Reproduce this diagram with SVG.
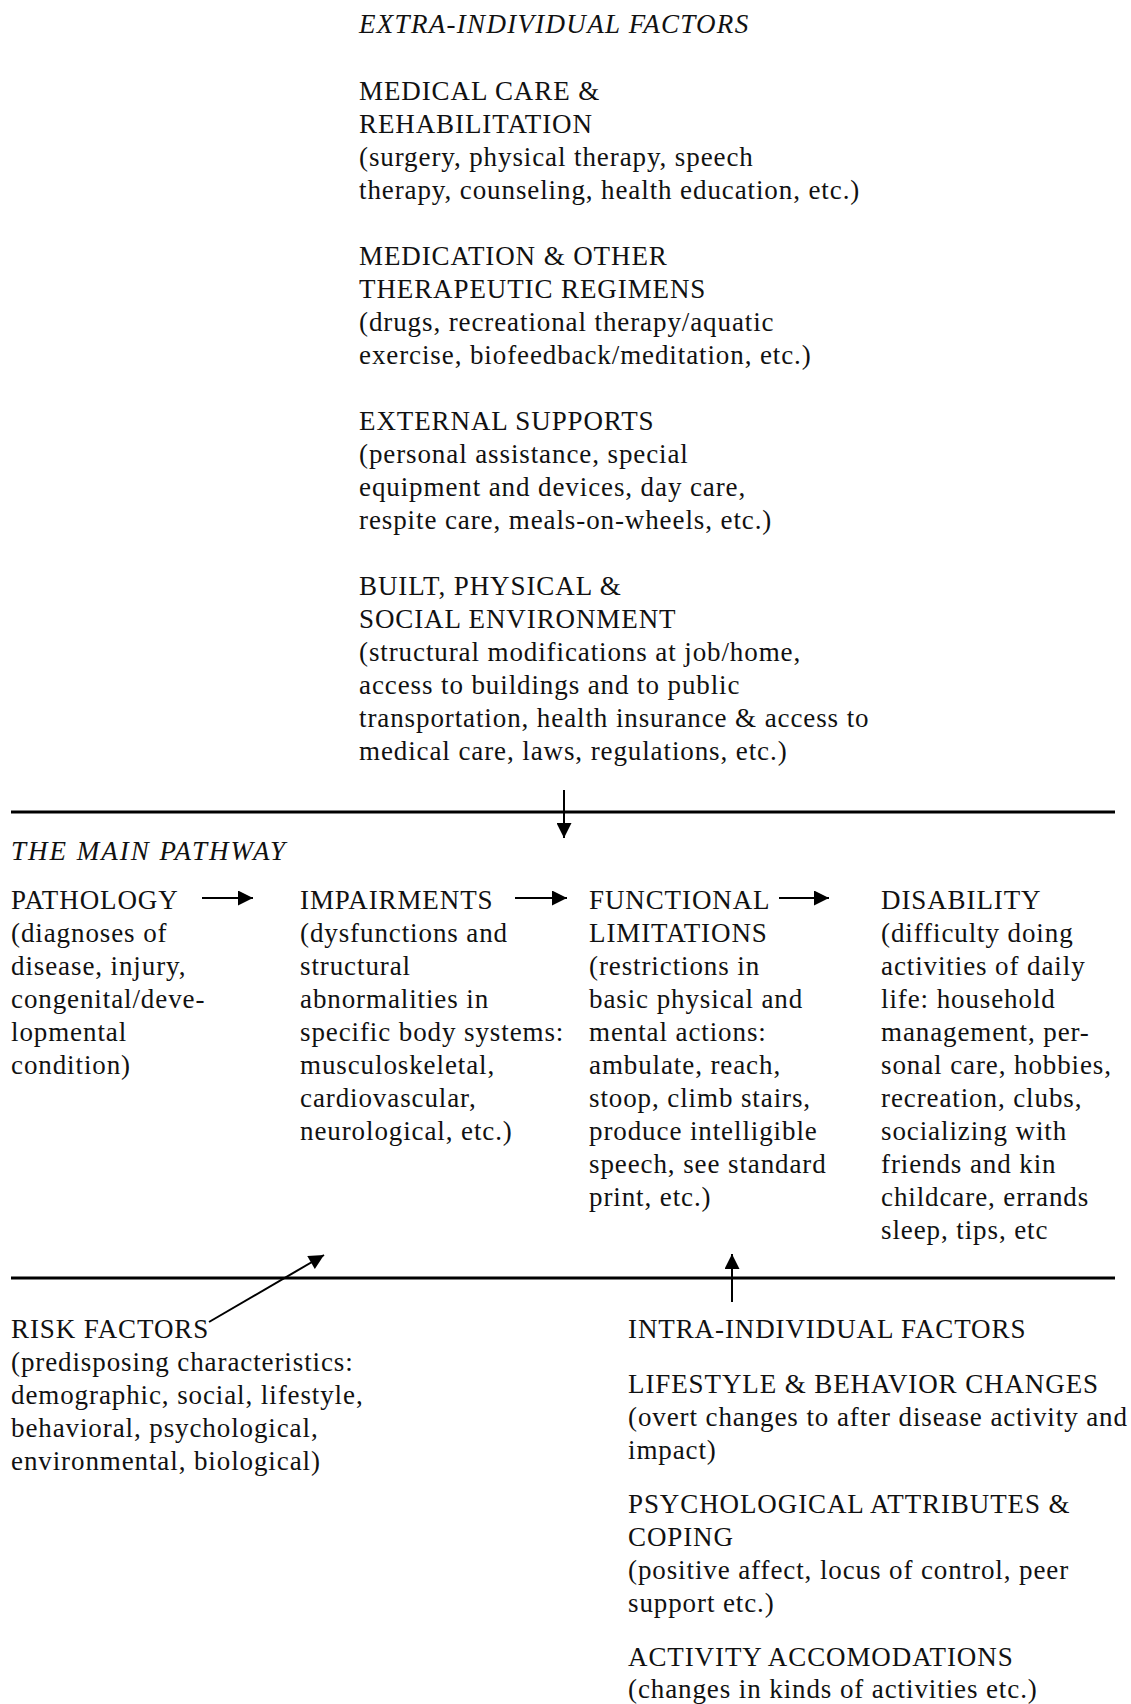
<svg xmlns="http://www.w3.org/2000/svg" width="1131" height="1704" viewBox="0 0 1131 1704">
<style>
text{font-family:"Liberation Serif","Times New Roman",serif;font-size:27px;fill:#111;letter-spacing:0.9px}
.it{font-style:italic;letter-spacing:1.3px}
.it2{font-style:italic;letter-spacing:2px}
.rule{stroke:#000;stroke-width:3}
.conn{stroke:#000;stroke-width:2;fill:none}
</style>
<defs>
<marker id="ah" viewBox="0 0 10 10" refX="10" refY="5" markerWidth="8" markerHeight="7.5" markerUnits="strokeWidth" orient="auto">
<path d="M0,0 L10,5 L0,10 Z" fill="#000"/>
</marker>
</defs>
<rect width="1131" height="1704" fill="#fff"/>
<g id="extra-individual">
<text class="it" x="359" y="33">EXTRA-INDIVIDUAL FACTORS</text>
<text x="359" y="100">MEDICAL CARE &amp;</text>
<text x="359" y="133">REHABILITATION</text>
<text x="359" y="166">(surgery, physical therapy, speech</text>
<text x="359" y="199">therapy, counseling, health education, etc.)</text>
<text x="359" y="265">MEDICATION &amp; OTHER</text>
<text x="359" y="298">THERAPEUTIC REGIMENS</text>
<text x="359" y="331">(drugs, recreational therapy/aquatic</text>
<text x="359" y="364">exercise, biofeedback/meditation, etc.)</text>
<text x="359" y="430">EXTERNAL SUPPORTS</text>
<text x="359" y="463">(personal assistance, special</text>
<text x="359" y="496">equipment and devices, day care,</text>
<text x="359" y="529">respite care, meals-on-wheels, etc.)</text>
<text x="359" y="595">BUILT, PHYSICAL &amp;</text>
<text x="359" y="628">SOCIAL ENVIRONMENT</text>
<text x="359" y="661">(structural modifications at job/home,</text>
<text x="359" y="694">access to buildings and to public</text>
<text x="359" y="727">transportation, health insurance &amp; access to</text>
<text x="359" y="760">medical care, laws, regulations, etc.)</text>
</g>
<g id="rules">
<line class="rule" x1="11" y1="812" x2="1115" y2="812"/>
<line class="rule" x1="11" y1="1278" x2="1115" y2="1278"/>
</g>
<g id="main-pathway-title">
<text class="it2" x="11" y="860">THE MAIN PATHWAY</text>
</g>
<g id="pathology">
<text x="11" y="909">PATHOLOGY</text>
<text x="11" y="942">(diagnoses of</text>
<text x="11" y="975">disease, injury,</text>
<text x="11" y="1008">congenital/deve-</text>
<text x="11" y="1041">lopmental</text>
<text x="11" y="1074">condition)</text>
</g>
<g id="impairments">
<text x="300" y="909">IMPAIRMENTS</text>
<text x="300" y="942">(dysfunctions and</text>
<text x="300" y="975">structural</text>
<text x="300" y="1008">abnormalities in</text>
<text x="300" y="1041">specific body systems:</text>
<text x="300" y="1074">musculoskeletal,</text>
<text x="300" y="1107">cardiovascular,</text>
<text x="300" y="1140">neurological, etc.)</text>
</g>
<g id="functional-limitations">
<text x="589" y="909">FUNCTIONAL</text>
<text x="589" y="942">LIMITATIONS</text>
<text x="589" y="975">(restrictions in</text>
<text x="589" y="1008">basic physical and</text>
<text x="589" y="1041">mental actions:</text>
<text x="589" y="1074">ambulate, reach,</text>
<text x="589" y="1107">stoop, climb stairs,</text>
<text x="589" y="1140">produce intelligible</text>
<text x="589" y="1173">speech, see standard</text>
<text x="589" y="1206">print, etc.)</text>
</g>
<g id="disability">
<text x="881" y="909">DISABILITY</text>
<text x="881" y="942">(difficulty doing</text>
<text x="881" y="975">activities of daily</text>
<text x="881" y="1008">life: household</text>
<text x="881" y="1041">management, per-</text>
<text x="881" y="1074">sonal care, hobbies,</text>
<text x="881" y="1107">recreation, clubs,</text>
<text x="881" y="1140">socializing with</text>
<text x="881" y="1173">friends and kin</text>
<text x="881" y="1206">childcare, errands</text>
<text x="881" y="1239">sleep, tips, etc</text>
</g>
<g id="risk-factors">
<text x="11" y="1338">RISK FACTORS</text>
<text x="11" y="1371">(predisposing characteristics:</text>
<text x="11" y="1404">demographic, social, lifestyle,</text>
<text x="11" y="1437">behavioral, psychological,</text>
<text x="11" y="1470">environmental, biological)</text>
</g>
<g id="intra-individual">
<text x="628" y="1338">INTRA-INDIVIDUAL FACTORS</text>
<text x="628" y="1393">LIFESTYLE &amp; BEHAVIOR CHANGES</text>
<text x="628" y="1426">(overt changes to after disease activity and</text>
<text x="628" y="1459">impact)</text>
<text x="628" y="1513">PSYCHOLOGICAL ATTRIBUTES &amp;</text>
<text x="628" y="1546">COPING</text>
<text x="628" y="1579">(positive affect, locus of control, peer</text>
<text x="628" y="1612">support etc.)</text>
<text x="628" y="1666">ACTIVITY ACCOMODATIONS</text>
<text x="628" y="1698">(changes in kinds of activities etc.)</text>
</g>
<g id="connectors">
<line class="conn" x1="564" y1="790" x2="564" y2="838" marker-end="url(#ah)"/>
<line class="conn" x1="202" y1="898" x2="253" y2="898" marker-end="url(#ah)"/>
<line class="conn" x1="515" y1="898" x2="567" y2="898" marker-end="url(#ah)"/>
<line class="conn" x1="779" y1="898" x2="829" y2="898" marker-end="url(#ah)"/>
<line class="conn" x1="209" y1="1322" x2="324" y2="1255" marker-end="url(#ah)"/>
<line class="conn" x1="732" y1="1302" x2="732" y2="1254" marker-end="url(#ah)"/>
</g>
</svg>
